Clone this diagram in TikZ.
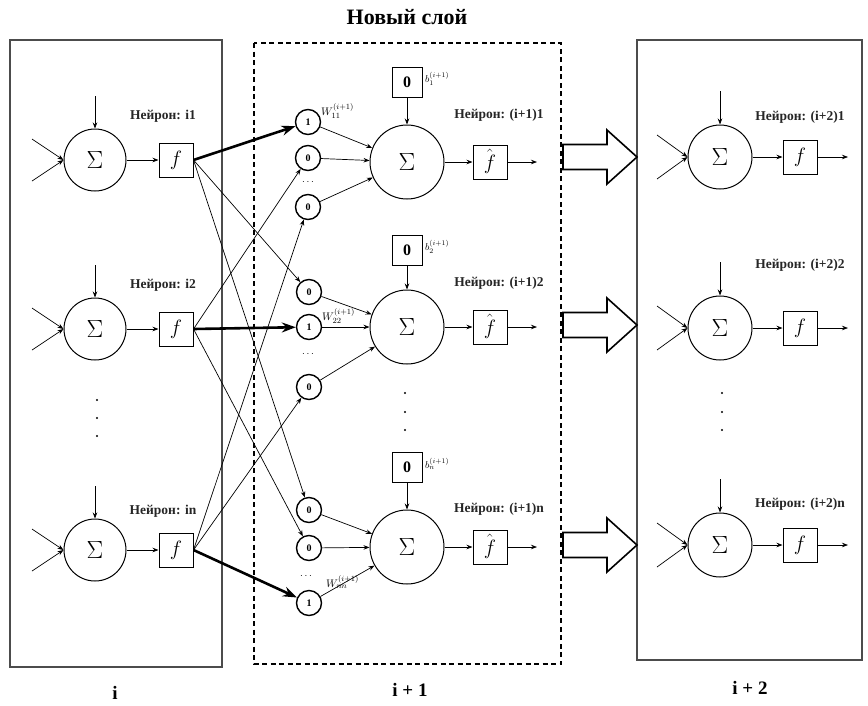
\documentclass[tikz,border=0pt]{standalone}
\usepackage{fontspec}
\setmainfont{Liberation Serif}
\usetikzlibrary{arrows.meta}
\begin{document}
\begin{tikzpicture}[x=1pt,y=-1pt,
  every node/.style={inner sep=0pt},
  sumL/.style={circle,draw,line width=1pt,minimum size=62pt,font=\fontsize{30}{30}\selectfont},
  sumR/.style={circle,draw,line width=1pt,minimum size=64pt,font=\fontsize{30}{30}\selectfont},
  sumM/.style={circle,draw,line width=1pt,minimum size=74pt,font=\fontsize{32}{32}\selectfont},
  fbox/.style={rectangle,draw,line width=1pt,minimum size=34pt,font=\fontsize{20}{20}\selectfont},
  wcirc/.style={circle,draw,line width=1.4pt,minimum size=25pt,font=\bfseries\fontsize{10}{10}\selectfont},
  bbox/.style={rectangle,draw,line width=1pt,minimum size=30pt,font=\bfseries\fontsize{16}{16}\selectfont},
  nlbl/.style={font=\bfseries\fontsize{13.5}{13.5}\selectfont,text=black!85},
  wlbl/.style={anchor=west,font=\fontsize{11}{11}\selectfont},
  arrthin/.style={-{Stealth[length=6pt,width=4.5pt]},line width=0.7pt},
  arrthick/.style={-{Stealth[length=14pt,width=10pt]},line width=2.6pt},
  dotm/.style={circle,fill,minimum size=2.4pt},
  frame/.style={line width=1.3pt,black!70},
  hollow/.style={line width=1.6pt,line join=miter},
  laylbl/.style={font=\bfseries\fontsize{19}{19}\selectfont},
]
\useasboundingbox (0,0) rectangle (868,705);

% layer frames
\draw[frame] (10,40) rectangle (222,667);
\draw[line width=1.8pt,dash pattern=on 5pt off 3.5pt] (254,43) rectangle (561,664);
\draw[frame] (637,40) rectangle (862,660);

\node[font=\bfseries\fontsize{22}{22}\selectfont] (title) at (407,17) {Новый слой};
\node[laylbl] (lay1) at (115,693) {i};
\node[laylbl] (lay2) at (410,690) {i + 1};
\node[laylbl] (lay3) at (750,688) {i + 2};

% layer i
\foreach \r/\y/\ly in {1/160/116,2/329/285,n/550/511}{
  \node[sumL] (LS\r) at (95,\y) {$\Sigma$};
  \node[fbox] (LF\r) at (176,\y) {$f$};
  \coordinate (LT\r) at (95,\y-64);
  \coordinate (LA\r) at (32,\y-21);
  \coordinate (LB\r) at (32,\y+21);
  \draw[arrthin] (LT\r) -- (LS\r);
  \draw[arrthin] (LA\r) -- (LS\r.west);
  \draw[arrthin] (LB\r) -- (LS\r.west);
  \draw[arrthin] (LS\r) -- (LF\r);
  \node[nlbl] (LL\r) at (163,\ly) {Нейрон: i\r};
}
\node[dotm] (ld1) at (97,400) {};
\node[dotm] (ld2) at (97,418) {};
\node[dotm] (ld3) at (97,436) {};

% layer i+1
\foreach \r/\y/\by/\ly in {1/162/82/115,2/327/250/283,n/547/467/509}{
  \node[sumM] (MS\r) at (407,\y) {$\Sigma$};
  \node[bbox] (MB\r) at (407,\by) {0};
  \node[wlbl,font=\fontsize{10}{10}\selectfont] (Mb\r) at (425,\by-3) {$b_{\r}^{(i+1)}$};
  \node[fbox] (MF\r) at (490,\y) {$\hat{\vphantom{\big(}f}$};
  \coordinate (MO\r) at (537,\y);
  \draw[arrthin] (MB\r) -- (MS\r);
  \draw[arrthin] (MS\r) -- (MF\r);
  \draw[arrthin] (MF\r) -- (MO\r);
  \node[nlbl] (ML\r) at (499,\ly) {Нейрон: (i+1)\r};
}
\node[dotm] (md1) at (405,393) {};
\node[dotm] (md2) at (405,412) {};
\node[dotm] (md3) at (405,430) {};

% weight circles
\node[wcirc] (C11) at (308,122) {1};
\node[wcirc] (C12) at (308,158) {0};
\node[wcirc] (C1n) at (308,207) {0};
\node (D1) at (308,182) {$\cdots$};
\node[wcirc] (C21) at (309,292) {0};
\node[wcirc] (C22) at (309,327) {1};
\node[wcirc] (C2n) at (309,387) {0};
\node (D2) at (308,354) {$\cdots$};
\node[wcirc] (Cn1) at (309,510) {0};
\node[wcirc] (Cn2) at (309,548) {0};
\node[wcirc] (Cnn) at (309,603) {1};
\node (Dn) at (306,576) {$\cdots$};

\foreach \a/\b in {C11/MS1,C12/MS1,C1n/MS1,C21/MS2,C22/MS2,C2n/MS2,Cn1/MSn,Cn2/MSn,Cnn/MSn}
  \draw[arrthin] (\a) -- (\b);

\node[wlbl] (W1) at (321,111) {$W_{11}^{(i+1)}$};
\node[wlbl] (W2) at (322,316) {$W_{22}^{(i+1)}$};
\node[wlbl] (Wn) at (326,582) {$W_{nn}^{(i+1)}$};

% connections layer i -> weights
\draw[arrthick] (LF1.east) -- (C11);
\draw[arrthick] (LF2.east) -- (C22);
\draw[arrthick] (LFn.east) -- (Cnn);
\foreach \a/\b in {LF1/C21,LF1/Cn1,LF2/C12,LF2/Cn2,LFn/C1n,LFn/C2n}
  \draw[arrthin] (\a.east) -- (\b);

% hollow arrows
\foreach \y in {157,325,545}
  \draw[hollow] (563,\y-12.5) -- (607,\y-12.5) -- (607,\y-27) -- (637,\y)
     -- (607,\y+27) -- (607,\y+12.5) -- (563,\y+12.5) -- cycle;

% layer i+2
\foreach \r/\y/\ly in {1/157/117,2/328/265,n/545/504}{
  \node[sumR] (RS\r) at (720,\y) {$\Sigma$};
  \node[fbox] (RF\r) at (800,\y) {$f$};
  \coordinate (RT\r) at (720,\y-66);
  \coordinate (RA\r) at (657,\y-22);
  \coordinate (RB\r) at (657,\y+22);
  \coordinate (RO\r) at (848,\y);
  \draw[arrthin] (RT\r) -- (RS\r);
  \draw[arrthin] (RA\r) -- (RS\r.west);
  \draw[arrthin] (RB\r) -- (RS\r.west);
  \draw[arrthin] (RS\r) -- (RF\r);
  \draw[arrthin] (RF\r) -- (RO\r);
  \node[nlbl] (RL\r) at (800,\ly) {Нейрон: (i+2)\r};
}
\node[dotm] (rd1) at (722,393) {};
\node[dotm] (rd2) at (722,412) {};
\node[dotm] (rd3) at (722,430) {};
\end{tikzpicture}
\end{document}
